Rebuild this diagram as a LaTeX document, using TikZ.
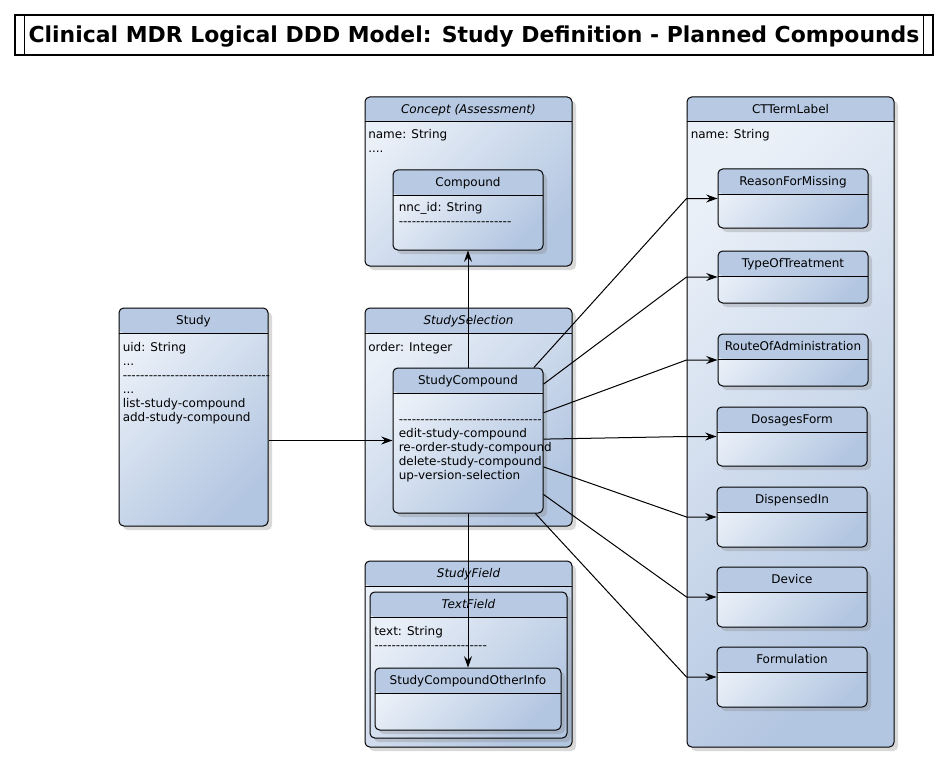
\documentclass[tikz,border=0pt]{standalone}
\usepackage{fontspec}
\setmainfont{DejaVu Sans}
\usetikzlibrary{arrows.meta,shadows,fit}
\definecolor{umlhead}{HTML}{B7C9E3}
\definecolor{umllite}{HTML}{EAF0F8}
\definecolor{umldark}{HTML}{B3C6E1}
% a row of plain hyphens (no en-dash ligature)
\newcommand\dashrow[1]{\foreach\k in {1,...,#1}{-\kern0pt}}

\begin{document}
\begin{tikzpicture}[x=0.75pt,y=-0.75pt,
  cls/.style={draw, line width=0.75pt, rounded corners=3.5pt, inner sep=0pt,
    top color=umllite, bottom color=umldark, shading angle=45,
    drop shadow={shadow xshift=3pt, shadow yshift=-3pt, opacity=0.3},
    path picture={\fill[umlhead] (path picture bounding box.north west) rectangle ([yshift=-18.75pt]path picture bounding box.north east);
      \draw[line width=0.75pt] ([yshift=-18.75pt]path picture bounding box.north west) -- ([yshift=-18.75pt]path picture bounding box.north east);}},
  ttl/.style={anchor=base, inner sep=0pt, font=\fontsize{9}{10.5}\selectfont},
  txt/.style={anchor=north west, inner sep=0pt, align=left, font=\fontsize{9}{10.5}\selectfont,
    execute at begin node={\rule{0pt}{7pt}}},
  arr/.style={-{Stealth[length=8.5pt,width=6pt,inset=3pt]}, line width=0.75pt}]
\useasboundingbox (0,0) rectangle (949,763);

% title
\node[draw, line width=0.8pt, fit={(15,15) (933,55)}, inner sep=0pt] (frame) {};
\draw[line width=0.8pt] ([xshift=7.5pt]frame.north west) -- ([xshift=7.5pt]frame.south west)
  ([xshift=-7.5pt]frame.north east) -- ([xshift=-7.5pt]frame.south east);
\node[anchor=base, inner sep=0pt, font=\fontsize{16.45}{20}\selectfont\bfseries] (title) at (474,43)
  {Clinical MDR Logical DDD Model: Study Definition - Planned Compounds};

% concept
\node[cls, fit={(365,97) (572,266)}] (concept) {};
\node[ttl] (concept-t) at ([yshift=-12.5pt]concept.north) {\itshape Concept (Assessment)};
\node[txt] (concept-a) at (368,129) {name: String\\....};
\node[cls, fit={(393,170) (543,250)}] (cmp) {};
\node[ttl] (cmp-t) at ([yshift=-12.5pt]cmp.north) {Compound};
\node[txt] (cmp-a) at (398.5,202.4) {nnc\_id: String\\\dashrow{26}};

% study
\node[cls, fit={(119,308) (268,526)}] (study) {};
\node[ttl] (study-t) at ([yshift=-12.5pt]study.north) {Study};
\node[txt] (study-a) at (122.5,342.4) {uid: String\\...\\\dashrow{34}\\...\\list-study-compound\\add-study-compound};

% selection
\node[cls, fit={(365,308) (572,526)}] (sel) {};
\node[ttl] (sel-t) at ([yshift=-12.5pt]sel.north) {\itshape StudySelection};
\node[txt] (sel-a) at (368,341.4) {order: Integer};
\node[cls, fit={(393,368) (543,513)}] (sc) {};
\node[ttl] (sc-t) at ([yshift=-12.5pt]sc.north) {StudyCompound};
\node[txt] (sc-a) at (398.5,400) {\rule{0pt}{7pt}\\\dashrow{33}\\edit-study-compound\\re-order-study-compound\\delete-study-compound\\up-version-selection};

% field
\node[cls, fit={(365,561) (572,747)}] (fld) {};
\node[ttl] (fld-t) at ([yshift=-12.5pt]fld.north) {\itshape StudyField};
\node[cls, fit={(370,592) (567,738)}] (tf) {};
\node[ttl] (tf-t) at ([yshift=-12.5pt]tf.north) {\itshape TextField};
\node[txt] (tf-a) at (374,625.7) {text: String\\\dashrow{26}};
\node[cls, fit={(375,668) (561,730)}] (scoi) {};
\node[ttl] (scoi-t) at ([yshift=-12.5pt]scoi.north) {StudyCompoundOtherInfo};

% term labels
\node[cls, fit={(687,97) (894,747)}] (ctt) {};
\node[ttl] (ctt-t) at ([yshift=-12.5pt]ctt.north) {CTTermLabel};
\node[txt] (ctt-a) at (690.5,129) {name: String};
\foreach \nm/\lbl/\x/\ya/\yb in {rfm/ReasonForMissing/718/169/228, tot/TypeOfTreatment/718/251/303,
    roa/RouteOfAdministration/718/334/386, dsf/DosagesForm/717/407/466, dsp/DispensedIn/717/487/547,
    dev/Device/717/567/627, frm/Formulation/717/647/707}
{\node[cls, fit={(\x,\ya) (\x+150,\yb)}] (\nm) {};
 \node[ttl] (\nm-t) at ([yshift=-12.5pt]\nm.north) {\lbl};
}

% links
\draw[arr] (study.east |- sc.west) -- (sc.west);
\draw[arr] (sc.north) -- (cmp.south);
\draw[arr] (sc.south) -- (scoi.north);
\foreach \nm in {rfm,tot,roa,dsf,dsp,dev,frm}
  \draw[arr] (sc) -- (ctt.west |- \nm.west) -- (\nm.west);

\end{tikzpicture}
\end{document}
